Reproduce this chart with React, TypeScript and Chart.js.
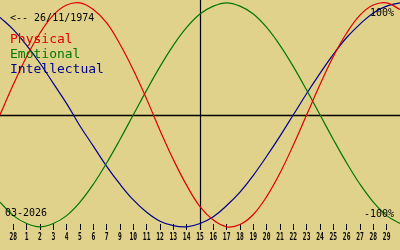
import { useEffect, useRef } from 'react';
import { Chart, registerables } from 'chart.js';

Chart.register(...registerables);

const dayIndex = [0, 1, 2, 3, 4, 5, 6, 7, 8, 9, 10, 11, 12, 13, 14, 15, 16, 17, 18, 19, 20, 21, 22, 23, 24, 25, 26, 27, 28, 29, 30];
const physical = [0, 27, 52, 73, 89, 98, 100, 94, 82, 63, 40, 14, -14, -40, -63, -82, -94, -100, -98, -89, -73, -52, -27, 0, 27, 52, 73, 89, 98, 100, 94];
const emotional = [-78, -90, -97, -100, -97, -90, -78, -62, -43, -22, 0, 22, 43, 62, 78, 90, 97, 100, 97, 90, 78, 62, 43, 22, 0, -22, -43, -62, -78, -90, -97];
const intellectual = [87, 76, 62, 46, 28, 10, -10, -28, -46, -62, -76, -87, -95, -99, -100, -97, -91, -81, -69, -54, -37, -19, 0, 19, 37, 54, 69, 81, 91, 97, 100];
const tickPositions = [1, 2, 3, 4, 5, 6, 7, 8, 9, 10, 11, 12, 13, 14, 15, 16, 17, 18, 19, 20, 21, 22, 23, 24, 25, 26, 27, 28, 29];
const tickLabels = ['28', '1', '2', '3', '4', '5', '6', '7', '9', '10', '11', '12', '13', '14', '15', '16', '17', '18', '19', '20', '21', '22', '23', '24', '25', '26', '27', '28', '29'];
const todayIndex = 15;
const birthText = '<-- 26/11/1974';
const monthText = '03-2026';
const legendNames = ['Physical', 'Emotional', 'Intellectual'];

const RED = '#e00000';
const GREEN = '#007800';
const BLUE = '#000090';
const BG = '#e0d28a';
const MONO = '"DejaVu Sans Mono", "Liberation Mono", monospace';

const overlayPlugin = {
  id: 'bioOverlay',
  beforeDatasetsDraw(chart: any) {
    const { ctx, chartArea, scales } = chart;
    const y0 = Math.round(scales.y.getPixelForValue(0)) + 0.5;
    const xT = Math.round(scales.x.getPixelForValue(todayIndex)) + 0.5;
    ctx.save();
    ctx.strokeStyle = '#000';
    ctx.lineWidth = 1.3;
    ctx.beginPath();
    ctx.moveTo(0, y0);
    ctx.lineTo(chart.width, y0);
    ctx.stroke();
    ctx.lineWidth = 1.2;
    ctx.beginPath();
    ctx.moveTo(xT, 0);
    ctx.lineTo(xT, chartArea.bottom + 6);
    ctx.stroke();
    ctx.restore();
  },
  afterDraw(chart: any) {
    const { ctx, scales } = chart;
    ctx.save();
    ctx.textBaseline = 'alphabetic';
    ctx.fillStyle = '#000';
    // condensed tick labels under the x-axis tick marks
    ctx.font = 'bold 10px ' + MONO;
    ctx.textAlign = 'center';
    tickPositions.forEach((v, i) => {
      const x = scales.x.getPixelForValue(v);
      ctx.save();
      ctx.translate(x, 240);
      ctx.scale(0.63, 1);
      ctx.fillText(tickLabels[i], 0, 0);
      ctx.restore();
    });
    ctx.font = '10px ' + MONO;
    ctx.textAlign = 'left';
    ctx.fillText(birthText, 10, 21);
    ctx.fillText(monthText, 5, 216);
    ctx.textAlign = 'right';
    ctx.fillText('100%', 394, 16);
    ctx.fillText('-100%', 394, 217);
    ctx.textAlign = 'left';
    ctx.font = '13px ' + MONO;
    const cols = [RED, GREEN, BLUE];
    legendNames.forEach((n, i) => {
      ctx.fillStyle = cols[i];
      ctx.fillText(n, 10, 43 + i * 15);
    });
    ctx.restore();
  },
};

export default function App() {
  const ref = useRef<HTMLCanvasElement | null>(null);
  useEffect(() => {
    if (!ref.current) return;
    const mk = (vals: number[], color: string) => ({
      data: dayIndex.map((d, i) => ({ x: d, y: vals[i] })),
      borderColor: color,
      borderWidth: 1.2,
      pointRadius: 0,
      tension: 0.4,
      fill: false,
      clip: false as any,
    });
    const chart = new Chart(ref.current, {
      type: 'line',
      data: {
        datasets: [mk(physical, RED), mk(emotional, GREEN), mk(intellectual, BLUE)],
      },
      options: {
        responsive: false,
        animation: false,
        layout: { padding: { top: 0, left: 0, right: 0, bottom: 20 } },
        plugins: { legend: { display: false }, tooltip: { enabled: false } },
        scales: {
          x: {
            type: 'linear',
            min: 0,
            max: 30,
            afterBuildTicks: (axis: any) => {
              axis.ticks = tickPositions.map((v) => ({ value: v }));
            },
            ticks: { display: false, autoSkip: false },
            grid: { drawOnChartArea: false, drawTicks: true, tickLength: 6, color: '#000', lineWidth: 1 },
            border: { display: false },
          },
          y: { display: false, min: -97.5, max: 102.5 },
        },
      },
      plugins: [overlayPlugin],
    });
    return () => chart.destroy();
  }, []);
  return (
    <div style={{ position: 'fixed', left: 0, top: 0, width: 400, height: 250, background: BG }}>
      <canvas ref={ref} width={400} height={250} style={{ display: 'block' }} />
    </div>
  );
}
